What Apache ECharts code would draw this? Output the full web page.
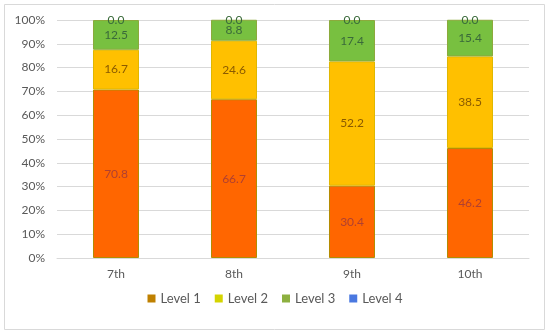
<!DOCTYPE html>
<html><head><meta charset="utf-8">
<script src="https://cdn.jsdelivr.net/npm/echarts@6/dist/echarts.min.js"></script>
<style>html,body{margin:0;padding:0;background:#fff}#c{width:550px;height:334px}</style>
</head><body><div id="c"></div>
<script>
const categories = ['7th', '8th', '9th', '10th'];
const level1 = [70.8, 66.7, 30.4, 46.2];
const level2 = [16.7, 24.6, 52.2, 38.5];
const level3 = [12.5, 8.8, 17.4, 15.4];
const level4 = [0.0, 0.0, 0.0, 0.0];
const seriesNames = ['Level 1', 'Level 2', 'Level 3', 'Level 4'];
const yTicks = ['0%','10%','20%','30%','40%','50%','60%','70%','80%','90%','100%'];

const fills = ['#ff6600', '#ffc000', '#78c040', '#4472c4'];
const borders = ['#b48c00', '#e0b800', '#8caa3c', '#4472c4'];
const legendColors = ['#bf8000', '#d4d400', '#8db040', '#4a78e0'];
const values = [level1, level2, level3, level4];
const font = 'Lato, "Open Sans", sans-serif';

const chart = echarts.init(document.getElementById('c'));
chart.setOption({
  animation: false,
  textStyle: { fontFamily: font },
  graphic: [{ type: 'rect', shape: { x: 4.5, y: 4.5, width: 540, height: 325 }, style: { fill: 'none', stroke: '#d9d9d9', lineWidth: 1 } }],
  grid: { left: 57, right: 21, top: 20, bottom: 76 },
  legend: {
    bottom: 24, left: 'center', itemWidth: 8, itemHeight: 8, itemGap: 14, icon: 'rect',
    textStyle: { color: '#595959', fontSize: 13, fontFamily: font },
    data: seriesNames.map((n, i) => ({ name: n, itemStyle: { color: legendColors[i], borderWidth: 0 } }))
  },
  xAxis: {
    type: 'category', data: categories,
    axisLine: { lineStyle: { color: '#d9d9d9' } }, axisTick: { show: false },
    axisLabel: { color: '#595959', fontSize: 12, margin: 10 }
  },
  yAxis: {
    type: 'value', min: 0, max: 100, interval: 10,
    axisLabel: { color: '#595959', fontSize: 12, margin: 12, formatter: v => yTicks[Math.round(v / 10)] },
    splitLine: { lineStyle: { color: '#d9d9d9' } },
    axisLine: { show: false }, axisTick: { show: false }
  },
  series: seriesNames.map((n, i) => ({
    name: n, type: 'bar', stack: 'all', barWidth: '39%', data: values[i], clip: false,
    itemStyle: { color: fills[i], borderColor: borders[i], borderWidth: i === 3 ? 0 : 1 },
    label: {
      show: true, position: i === 3 ? 'insideTop' : 'inside', distance: i === 3 ? -6 : 5,
      color: i === 0 ? '#b04030' : (i === 1 ? '#8a5a00' : '#3a6a3a'), fontSize: 12,
      formatter: p => p.value.toFixed(1)
    }
  }))
});
</script></body></html>
